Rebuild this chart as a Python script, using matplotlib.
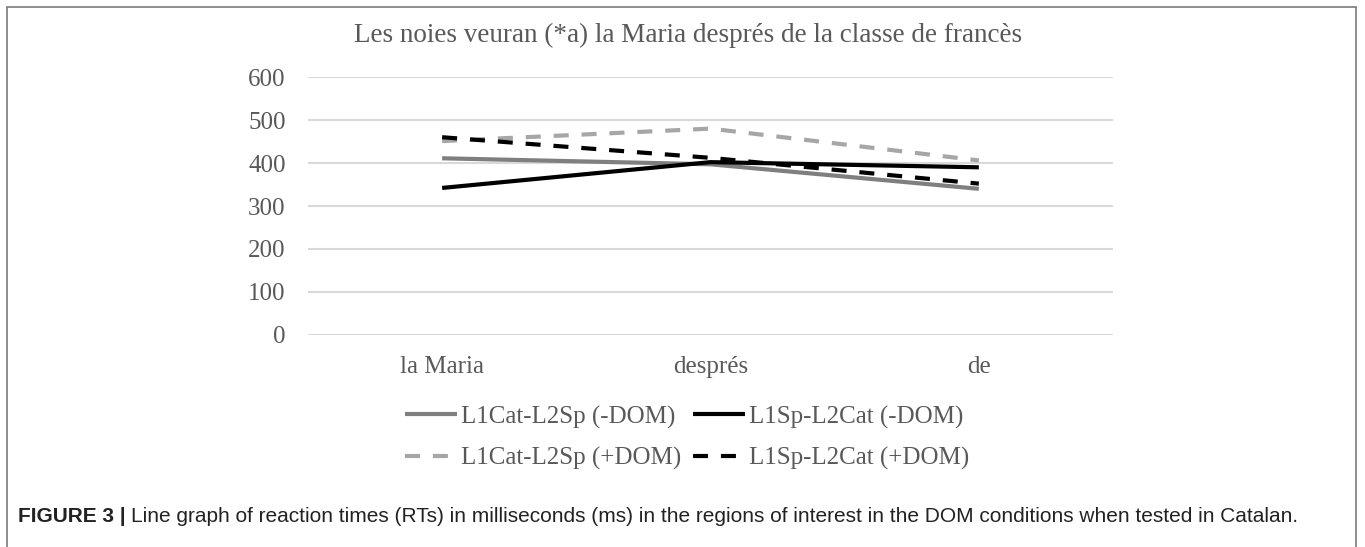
import matplotlib
matplotlib.use("Agg")
import matplotlib.pyplot as plt
from matplotlib.patches import Rectangle

# regions of interest (x axis)
regions = ["la Maria", "després", "de"]

# mean RTs (ms)
cat_l2sp_minus = [411, 397, 340]
sp_l2cat_minus = [342, 402, 390]
cat_l2sp_plus = [451, 480, 406]
sp_l2cat_plus = [460, 412, 352]

yticks = [0, 100, 200, 300, 400, 500, 600]

title = "Les noies veuran (*a) la Maria després de la classe de francès"
caption_bold = "FIGURE 3 | "
caption_text = ("Line graph of reaction times (RTs) in milliseconds (ms) in the regions "
                "of interest in the DOM conditions when tested in Catalan.")

serif = ["Liberation Serif", "DejaVu Serif"]
sans = ["Liberation Sans Narrow", "Liberation Sans"]
txt_color = "#595959"
dash = (3.6, 3.1)

fig = plt.figure(figsize=(13.65, 5.47), dpi=100)
ax = fig.add_axes([0.2256, 0.3876, 0.5898, 0.4716])

x = range(len(regions))
l1, = ax.plot(x, cat_l2sp_minus, color="#7f7f7f", lw=3, solid_capstyle="butt")
l2, = ax.plot(x, sp_l2cat_minus, color="#000000", lw=3, solid_capstyle="butt")
l3, = ax.plot(x, cat_l2sp_plus, color="#a6a6a6", lw=3, dashes=dash, dash_capstyle="butt")
l4, = ax.plot(x, sp_l2cat_plus, color="#000000", lw=3, dashes=dash, dash_capstyle="butt")

ax.set_xlim(-0.5, 2.5)
ax.set_ylim(0, 600)
ax.set_yticks(yticks)
ax.set_xticks(list(x))
ax.set_xticklabels(regions)
ax.grid(axis="y", color="#d9d9d9", lw=1.5)
ax.set_axisbelow(True)
for s in ax.spines.values():
    s.set_visible(False)
ax.tick_params(length=0, labelsize=18, labelcolor=txt_color)
ax.tick_params(axis="y", pad=16)
ax.tick_params(axis="x", pad=15)
for lab in ax.get_xticklabels() + ax.get_yticklabels():
    lab.set_family(serif)

fig.text(688 / 1365, 1 - 35 / 547, title, ha="center", va="center",
         fontsize=19.5, color=txt_color, family=serif)

# legend, filled column-wise -> order so the rows read -DOM / +DOM
fig.legend([l1, l3, l2, l4],
           ["L1Cat-L2Sp (-DOM)", "L1Cat-L2Sp (+DOM)", "L1Sp-L2Cat (-DOM)", "L1Sp-L2Cat (+DOM)"],
           ncol=2, loc="center", bbox_to_anchor=(687 / 1365, 1 - 438 / 547),
           frameon=False, prop={"family": serif, "size": 18},
           labelcolor=txt_color, handlelength=2.1, handletextpad=0.15,
           columnspacing=0.45, labelspacing=0.75, borderpad=0)

# caption below the chart
cap = fig.text(18 / 1365, 1 - 516 / 547, caption_bold, ha="left", va="center",
               fontsize=15, fontweight="bold", color="#222222", family=sans)
fig.canvas.draw()
plt.annotate(caption_text, xy=(1, 0.5), xycoords=cap, va="center", ha="left",
             fontsize=15, color="#222222", family=sans)

# frame around the figure panel
fig.patches.append(Rectangle((7 / 1365, -0.01), 1349 / 1365, 1 - 7 / 547 + 0.01,
                             transform=fig.transFigure, fill=False,
                             edgecolor="#7a7a7a", lw=1.2))

fig.savefig("out.png", dpi=100)
